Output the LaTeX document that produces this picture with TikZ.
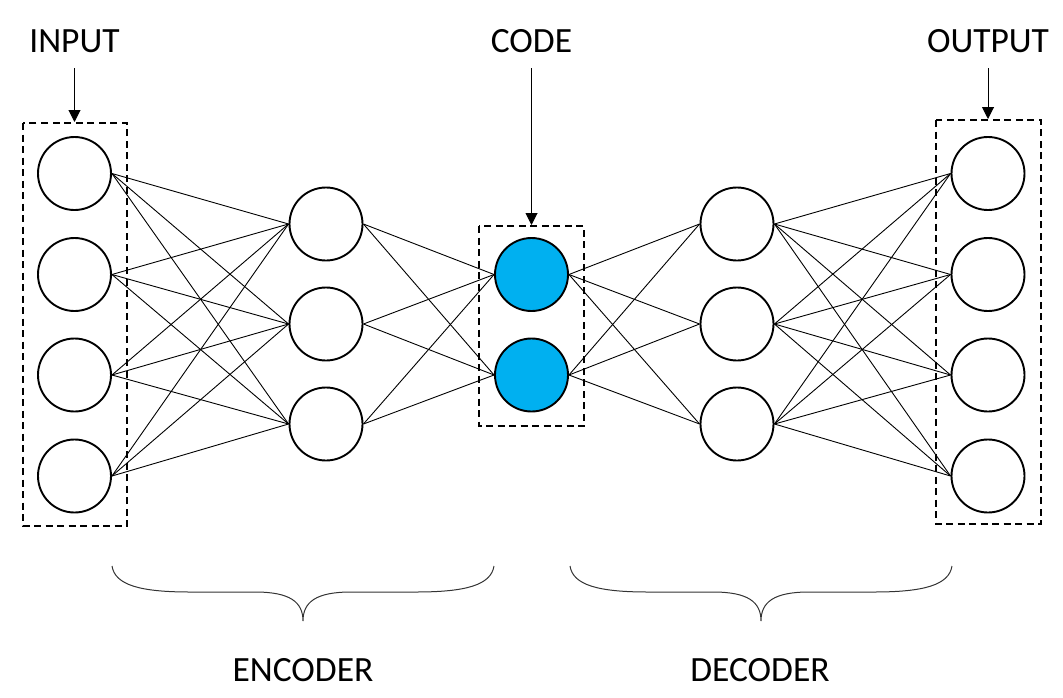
\documentclass[tikz,border=0pt]{standalone}
\usepackage{fontspec}
\setmainfont{Carlito}
\usetikzlibrary{arrows.meta}
\definecolor{codeblue}{HTML}{00B0F0}
\tikzset{
  neuron/.style={circle,draw=black,line width=1.9pt,fill=white,minimum size=73pt,inner sep=0pt},
  codeneuron/.style={neuron,fill=codeblue},
  conn/.style={line width=0.9pt,black},
  groupbox/.style={draw=black,line width=2.1pt,dash pattern=on 7pt off 4.5pt},
  lbl/.style={font=\fontsize{35.5}{40}\selectfont,anchor=base},
  pointer/.style={line width=1pt,-{Triangle[length=12pt,width=12pt]}},
  brace/.style={line width=1pt,black!80}
}
\begin{document}
\begin{tikzpicture}[x=1pt,y=-1pt]
\useasboundingbox (0,0) rectangle (1063,697);
% boxes
\draw[groupbox] (23,123) rectangle (127,526);
\draw[groupbox] (479,226) rectangle (584,426);
\draw[groupbox] (936,120) rectangle (1041,524);
% nodes
\foreach \i/\y in {1/173.5,2/274.5,3/375,4/476}{
  \node[neuron] (in\i) at (74.5,\y) {};
  \node[neuron] (out\i) at (988,\y) {};
}
\foreach \i/\y in {1/224,2/324,3/424}{
  \node[neuron] (h\i) at (326,\y) {};
  \node[neuron] (d\i) at (737,\y) {};
}
\node[codeneuron] (c1) at (531.5,274.5) {};
\node[codeneuron] (c2) at (531.5,375) {};
% connections
\foreach \i in {1,...,4}{\foreach \j in {1,2,3}{
  \draw[conn] (in\i.east) -- (h\j.west);
  \draw[conn] (d\j.east) -- (out\i.west);
}}
\foreach \j in {1,2,3}{\foreach \k in {1,2}{
  \draw[conn] (h\j.east) -- (c\k.west);
  \draw[conn] (c\k.east) -- (d\j.west);
}}
% labels
\node[lbl] (tin) at (74.5,52) {INPUT};
\node[lbl] (tcode) at (531.5,52) {CODE};
\node[lbl] (tout) at (988,52) {OUTPUT};
\coordinate (ain) at (74.5,68);
\coordinate (acode) at (531.5,68);
\coordinate (aout) at (988,68);
\coordinate (bin) at (74.5,122);
\coordinate (bcode) at (531.5,225);
\coordinate (bout) at (988,119);
\draw[pointer] (ain) -- (bin);
\draw[pointer] (acode) -- (bcode);
\draw[pointer] (aout) -- (bout);
% braces
\draw[brace] (112,566) .. controls (115,585) and (140,592) .. (190,592) -- (255,592) .. controls (290,592) and (303,602) .. (303,621)
  .. controls (303,602) and (316,592) .. (351,592) -- (416,592) .. controls (466,592) and (491,585) .. (494,566);
\draw[brace] (570,566) .. controls (573,585) and (598,592) .. (648,592) -- (713,592) .. controls (748,592) and (761,602) .. (761,621)
  .. controls (761,602) and (774,592) .. (809,592) -- (874,592) .. controls (924,592) and (949,585) .. (952,566);
\node[lbl] (tenc) at (303,681) {ENCODER};
\node[lbl] (tdec) at (760,681) {DECODER};
\end{tikzpicture}
\end{document}
